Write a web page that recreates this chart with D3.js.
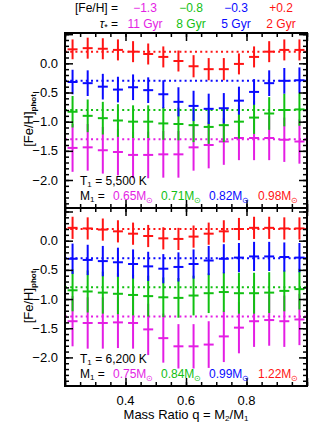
<!DOCTYPE html>
<html>
<head>
<meta charset="utf-8">
<script src="https://cdn.jsdelivr.net/npm/d3@7"></script>
<style>
  body { margin: 0; background: #fff; }
  text { font-family: "Liberation Sans", Arial, sans-serif; }
</style>
</head>
<body>
<svg id="chart" width="329" height="424"></svg>
<script>
// mass-ratio bins
var q = [0.225, 0.275, 0.325, 0.375, 0.425, 0.475, 0.525, 0.575,
         0.625, 0.675, 0.725, 0.775, 0.825, 0.875, 0.925, 0.975];

// input metallicities / ages, one per colour
var fehIn = [-1.3, -0.8, -0.3, 0.2];
var fehLabels = ["\u22121.3", "\u22120.8", "\u22120.3", "+0.2"];
var ageLabels = ["11 Gyr", "8 Gyr", "5 Gyr", "2 Gyr"];
var colors = ["#e41ee4", "#12c012", "#0a0aff", "#ff1414"];

// T1 = 5,500 K panel
var topMag = [-1.45, -1.44, -1.49, -1.52, -1.57, -1.57, -1.56, -1.56, -1.44, -1.40, -1.34, -1.28, -1.28, -1.28, -1.31, -1.34];
var topGrn = [-0.83, -0.90, -0.94, -0.98, -1.00, -1.00, -1.03, -1.04, -1.06, -1.09, -1.06, -1.00, -0.93, -0.86, -0.80, -0.79];
var topBlu = [-0.32, -0.34, -0.40, -0.45, -0.41, -0.46, -0.53, -0.66, -0.73, -0.78, -0.77, -0.64, -0.49, -0.34, -0.30, -0.29];
var topRed = [0.24, 0.26, 0.25, 0.23, 0.20, 0.16, 0.11, 0.04, -0.05, -0.10, -0.10, -0.01, 0.11, 0.20, 0.23, 0.23];
var topMagErr = [0.41, 0.40, 0.40, 0.40, 0.40, 0.40, 0.40, 0.40, 0.40, 0.40, 0.40, 0.38, 0.38, 0.38, 0.38, 0.38];
var topGrnErr = [0.27, 0.28, 0.28, 0.28, 0.28, 0.28, 0.28, 0.28, 0.29, 0.29, 0.29, 0.29, 0.28, 0.28, 0.28, 0.28];
var topBluErr = [0.21, 0.22, 0.22, 0.22, 0.22, 0.22, 0.24, 0.25, 0.26, 0.26, 0.26, 0.24, 0.22, 0.22, 0.22, 0.22];
var topRedErr = [0.17, 0.18, 0.18, 0.18, 0.18, 0.18, 0.18, 0.18, 0.19, 0.19, 0.19, 0.18, 0.18, 0.18, 0.18, 0.18];
var topMass = ["0.65", "0.71", "0.82", "0.98"];

// T1 = 6,200 K panel
var botMag = [-1.38, -1.41, -1.41, -1.40, -1.41, -1.52, -1.67, -1.81, -1.81, -1.78, -1.64, -1.49, -1.38, -1.36, -1.38, -1.35];
var botGrn = [-0.85, -0.87, -0.89, -0.91, -0.93, -0.95, -0.97, -0.98, -0.94, -0.90, -0.88, -0.90, -0.90, -0.89, -0.86, -0.83];
var botBlu = [-0.31, -0.33, -0.35, -0.37, -0.40, -0.44, -0.48, -0.45, -0.40, -0.34, -0.31, -0.29, -0.27, -0.27, -0.28, -0.29];
var botRed = [0.22, 0.21, 0.19, 0.16, 0.12, 0.08, 0.04, 0.03, 0.07, 0.12, 0.16, 0.20, 0.22, 0.22, 0.21, 0.21];
var botMagErr = [0.43, 0.44, 0.44, 0.44, 0.44, 0.44, 0.42, 0.38, 0.38, 0.40, 0.44, 0.44, 0.44, 0.44, 0.44, 0.44];
var botGrnErr = [0.36, 0.36, 0.36, 0.35, 0.35, 0.35, 0.34, 0.34, 0.34, 0.34, 0.34, 0.35, 0.35, 0.35, 0.35, 0.35];
var botBluErr = [0.26, 0.26, 0.26, 0.25, 0.25, 0.25, 0.25, 0.25, 0.25, 0.25, 0.25, 0.25, 0.25, 0.25, 0.25, 0.25];
var botRedErr = [0.19, 0.19, 0.19, 0.19, 0.19, 0.19, 0.19, 0.19, 0.19, 0.19, 0.19, 0.19, 0.19, 0.19, 0.19, 0.19];
var botMass = ["0.75", "0.84", "0.99", "1.22"];

var yLabels = [0, -0.5, -1, -1.5, -2];
var xLabels = [0.4, 0.6, 0.8];

var svg = d3.select("#chart");
var x = d3.scaleLinear().domain([0.2, 1.0]).range([65, 307]);
var halfBin = 0.0165;

var panels = [
  { top: 33, bottom: 208, dom: [-2.48, 0.52], T: "5,500",
    vals: [topMag, topGrn, topBlu, topRed], errs: [topMagErr, topGrnErr, topBluErr, topRedErr], mass: topMass, lastPanel: false },
  { top: 208, bottom: 386, dom: [-2.49, 0.56], T: "6,200",
    vals: [botMag, botGrn, botBlu, botRed], errs: [botMagErr, botGrnErr, botBluErr, botRedErr], mass: botMass, lastPanel: true }
];

function minorTicks(lo, hi, step) {
  var out = [];
  for (var v = Math.ceil(lo / step) * step; v <= hi + 1e-9; v += step) out.push(+v.toFixed(3));
  return out;
}

panels.forEach(function (p) {
  var y = d3.scaleLinear().domain(p.dom).range([p.bottom, p.top]);
  var g = svg.append("g");

  // dotted input-metallicity lines
  fehIn.forEach(function (f, i) {
    g.append("line")
      .attr("x1", x(0.2)).attr("x2", x(1.0))
      .attr("y1", y(f)).attr("y2", y(f))
      .attr("stroke", colors[i])
      .attr("stroke-width", 2)
      .attr("stroke-dasharray", "2,3.2");
  });

  // crosses
  p.vals.forEach(function (arr, i) {
    var err = p.errs[i];
    arr.forEach(function (v, k) {
      g.append("line")
        .attr("x1", x(q[k])).attr("x2", x(q[k]))
        .attr("y1", y(v - err[k])).attr("y2", y(v + err[k]))
        .attr("stroke", colors[i]).attr("stroke-width", 2);
      g.append("line")
        .attr("x1", x(q[k] - halfBin)).attr("x2", x(q[k] + halfBin))
        .attr("y1", y(v)).attr("y2", y(v))
        .attr("stroke", colors[i]).attr("stroke-width", 2);
    });
  });

  // axes, ticks inward on all sides
  var yMin = minorTicks(p.dom[0], p.dom[1], 0.1);
  var yMaj = minorTicks(p.dom[0], p.dom[1], 0.5);
  var xMin = minorTicks(0.2, 1.0, 0.05);
  var xMaj = minorTicks(0.2, 1.0, 0.2);

  g.append("g").attr("transform", "translate(" + x(0.2) + ",0)")
    .call(d3.axisLeft(y).tickValues(yMin).tickSize(-4).tickFormat(""));
  g.append("g").attr("transform", "translate(" + x(0.2) + ",0)")
    .call(d3.axisLeft(y).tickValues(yMaj).tickSize(-8).tickFormat(""));
  g.append("g").attr("transform", "translate(" + x(1.0) + ",0)")
    .call(d3.axisRight(y).tickValues(yMin).tickSize(-4).tickFormat(""));
  g.append("g").attr("transform", "translate(" + x(1.0) + ",0)")
    .call(d3.axisRight(y).tickValues(yMaj).tickSize(-8).tickFormat(""));
  g.append("g").attr("transform", "translate(0," + p.top + ")")
    .call(d3.axisTop(x).tickValues(xMin).tickSize(-4).tickFormat(""));
  g.append("g").attr("transform", "translate(0," + p.top + ")")
    .call(d3.axisTop(x).tickValues(xMaj).tickSize(-8).tickFormat(""));
  g.append("g").attr("transform", "translate(0," + p.bottom + ")")
    .call(d3.axisBottom(x).tickValues(xMin).tickSize(-4).tickFormat(""));
  g.append("g").attr("transform", "translate(0," + p.bottom + ")")
    .call(d3.axisBottom(x).tickValues(xMaj).tickSize(-8).tickFormat(""));

  g.selectAll(".domain").remove();
  g.selectAll(".tick line").attr("stroke", "#000").attr("stroke-width", 1.5);

  // y tick labels
  g.selectAll(".ylab").data(yLabels).enter().append("text")
    .attr("x", 58).attr("y", function (d) { return y(d) + 4.5; })
    .attr("text-anchor", "end").attr("font-size", 13)
    .text(d3.format(".1f"));

  // frame
  g.append("rect")
    .attr("x", x(0.2)).attr("y", p.top)
    .attr("width", x(1.0) - x(0.2)).attr("height", p.bottom - p.top)
    .attr("fill", "none").attr("stroke", "#000").attr("stroke-width", 2);

  // y axis title
  var yt = g.append("text")
    .attr("transform", "translate(33," + (p.top + p.bottom) / 2 + ") rotate(-90)")
    .attr("text-anchor", "middle").attr("font-size", 13);
  yt.append("tspan").text("[Fe/H]");
  yt.append("tspan").attr("dy", 3).attr("font-size", 8).attr("font-weight", "bold").text("phot");

  // annotations
  var t1 = g.append("text").attr("x", 80).attr("y", p.bottom - 23).attr("font-size", 12);
  t1.append("tspan").text("T");
  t1.append("tspan").attr("font-size", 8).attr("dy", 1.5).text("1");
  t1.append("tspan").attr("dy", -1.5).text(" = " + p.T + " K");

  var m1 = g.append("text").attr("x", 80).attr("y", p.bottom - 8).attr("font-size", 12);
  m1.append("tspan").text("M");
  m1.append("tspan").attr("font-size", 8).attr("dy", 1.5).text("1");
  m1.append("tspan").attr("dy", -1.5).text(" =");

  var massX = [113, 161, 209, 258];
  p.mass.forEach(function (m, i) {
    var t = g.append("text").attr("x", massX[i]).attr("y", p.bottom - 8)
      .attr("font-size", 12).attr("fill", colors[i]);
    t.append("tspan").text(m + "M");
    t.append("tspan").attr("font-size", 8).attr("dy", 3).text("\u2299");
  });

  if (p.lastPanel) {
    g.selectAll(".xlab").data(xLabels).enter().append("text")
      .attr("x", function (d) { return x(d); }).attr("y", p.bottom + 19)
      .attr("text-anchor", "middle").attr("font-size", 13)
      .text(d3.format(".1f"));
  }
});

// x axis title
var xt = svg.append("text").attr("x", 186).attr("y", 419)
  .attr("text-anchor", "middle").attr("font-size", 13);
xt.append("tspan").text("Mass Ratio q = M");
xt.append("tspan").attr("font-size", 8).attr("dy", 2).text("2");
xt.append("tspan").attr("dy", -2).text("/M");
xt.append("tspan").attr("font-size", 8).attr("dy", 2).text("1");

// header legend
var hdrX = [145, 191, 236, 281];
svg.append("text").attr("x", 118).attr("y", 12).attr("text-anchor", "end")
  .attr("font-size", 12).text("[Fe/H] =");
var tau = svg.append("text").attr("x", 118).attr("y", 28).attr("text-anchor", "end").attr("font-size", 12);
tau.append("tspan").attr("font-style", "italic").text("\u03C4");
tau.append("tspan").attr("font-size", 9).attr("dy", 2).text("*");
tau.append("tspan").attr("dy", -2).text(" =");
fehLabels.forEach(function (s, i) {
  svg.append("text").attr("x", hdrX[i]).attr("y", 12).attr("text-anchor", "middle")
    .attr("font-size", 12).attr("fill", colors[i]).text(s);
  svg.append("text").attr("x", hdrX[i]).attr("y", 28).attr("text-anchor", "middle")
    .attr("font-size", 12).attr("fill", colors[i]).text(ageLabels[i]);
});
</script>
</body>
</html>
